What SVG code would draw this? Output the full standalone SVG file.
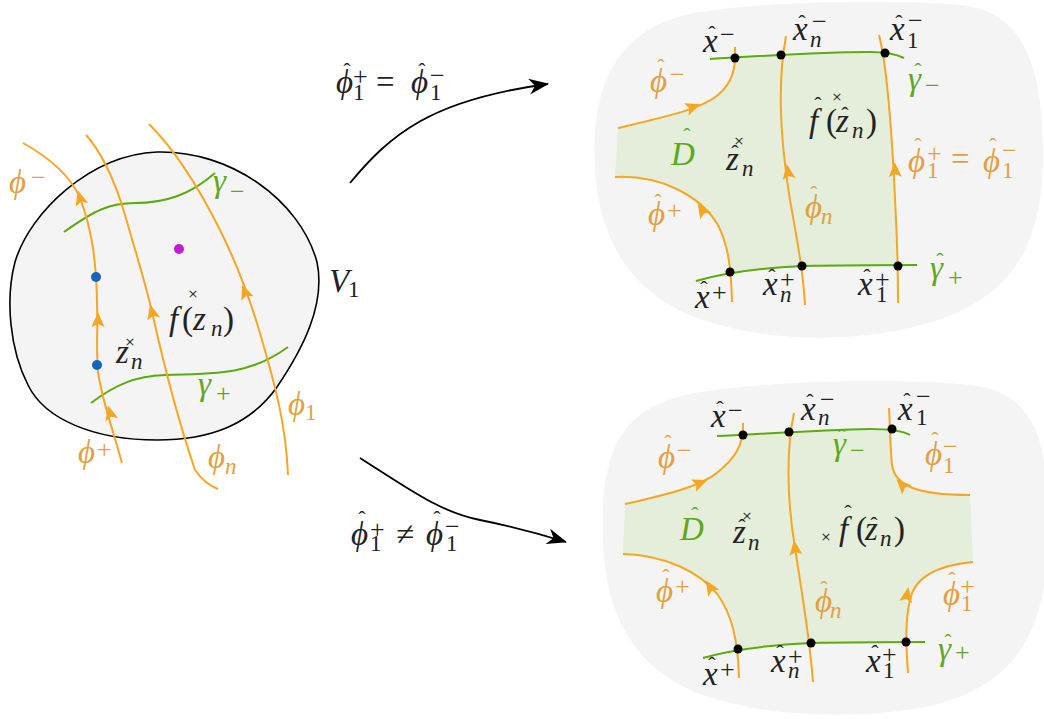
<svg xmlns="http://www.w3.org/2000/svg" width="1044" height="719" viewBox="0 0 1044 719">
<defs>
<style>
.t{font-family:"Liberation Serif","DejaVu Serif",serif;font-style:italic;font-size:33px}
.u{font-style:normal}
.s{font-size:23px}
.p{font-style:normal;font-size:26px}
.h{font-style:normal;font-size:22px;text-anchor:middle}
.k{fill:#222}
.o{fill:#e2a040}
.g{fill:#5ea81e}
.x{font-family:"DejaVu Sans",sans-serif;font-style:normal;font-size:13px;text-anchor:middle;fill:#333}
.ol{fill:none;stroke:#f6a623;stroke-width:2}
.gl{fill:none;stroke:#5aab0c;stroke-width:2}
.bg{fill:#f4f4f4}
.reg{fill:#e4eedb}
.dot{fill:#000}
.ah{fill:#f6a623}
.big{fill:none;stroke:#000;stroke-width:1.8}
</style>
<marker id="stealth" viewBox="-20 -9 22 18" refX="0" refY="0" markerWidth="22" markerHeight="18" markerUnits="userSpaceOnUse" orient="auto">
<path d="M1,0 L-19,-8 L-13,0 L-19,8 Z" fill="#000"/>
</marker>
<path id="a" d="M8,0 L-7,-6.5 L-4,0 L-7,6.5 Z"/>
</defs>

<!-- LEFT PANEL -->
<g id="left-domain">
<path d="M157,152 C230,150 300,200 317,262 C326,305 302,350 277,387 C250,425 210,440 157,440 C95,440 45,420 28,385 C10,350 5,300 15,262 C30,212 90,155 157,152 Z" fill="#f4f4f4" stroke="#000" stroke-width="1.6"/>
<path class="gl" d="M64,232 C95,210 110,203 135,203 C165,203 190,195 215,173"/>
<path class="gl" d="M91,403 C115,385 135,376 165,375 C215,374 250,375 288,347"/>
<path class="ol" d="M23,143 C50,158 70,175 80,198 C92,230 96,260 97,300 C98,330 96,350 98,372 C102,400 110,420 122,463"/>
<path class="ol" d="M86,135 C100,150 115,180 125,215 C138,260 146,285 152,312 C165,370 178,420 195,470 C202,480 210,486 218,489"/>
<path class="ol" d="M149,124 C175,150 200,190 220,230 C240,270 252,305 262,340 C275,385 286,425 288,475"/>
<use href="#a" class="ah" transform="translate(80,198) rotate(-106)"/>
<use href="#a" class="ah" transform="translate(98,320) rotate(-90)"/>
<use href="#a" class="ah" transform="translate(110,413) rotate(-105)"/>
<use href="#a" class="ah" transform="translate(152,312) rotate(-104)"/>
<use href="#a" class="ah" transform="translate(245,292) rotate(-110)"/>
<circle cx="96" cy="277" r="5" fill="#1565c0"/>
<circle cx="97" cy="365" r="5" fill="#1565c0"/>
<circle cx="179" cy="249" r="5" fill="#c21bd6"/>
<text class="x" x="193" y="298">×</text>
<text class="x" x="130" y="346">×</text>
<text class="t o"><tspan x="9" y="193">ϕ</tspan><tspan class="p" x="31" y="186">−</tspan></text>
<text class="t g"><tspan x="213" y="192">γ</tspan><tspan class="p" x="230" y="200">−</tspan></text>
<text class="t k"><tspan x="169" y="330">f</tspan><tspan class="u" x="182" y="330">(</tspan><tspan x="193" y="330">z</tspan><tspan class="s" x="211" y="336">n</tspan><tspan class="u" x="223" y="330">)</tspan></text>
<text class="t k"><tspan x="116" y="363">z</tspan><tspan class="s" x="131" y="369">n</tspan></text>
<text class="t g"><tspan x="198" y="395">γ</tspan><tspan class="p" x="216" y="402">+</tspan></text>
<text class="t o"><tspan x="288" y="415">ϕ</tspan><tspan class="u s" x="305" y="420">1</tspan></text>
<text class="t o"><tspan x="78" y="463">ϕ</tspan><tspan class="p" x="97" y="458">+</tspan></text>
<text class="t o"><tspan x="208" y="468">ϕ</tspan><tspan class="s" x="225" y="474">n</tspan></text>
<text class="t k"><tspan x="329" y="292">V</tspan><tspan class="u s" x="348" y="297">1</tspan></text>
</g>

<!-- CONNECTORS -->
<g id="connectors">
<path class="big" d="M350,183 C390,135 430,100 548,84" marker-end="url(#stealth)"/>
<path class="big" d="M360,458 C410,490 440,512 480,520 C515,527 540,534 566,542" marker-end="url(#stealth)"/>
<text class="t k"><tspan x="336" y="93">ϕ</tspan><tspan class="h" x="347" y="78">ˆ</tspan><tspan class="p" x="353" y="85">+</tspan><tspan class="u s" x="353" y="100">1</tspan><tspan class="u" x="376" y="93">=</tspan><tspan x="411" y="93">ϕ</tspan><tspan class="h" x="422" y="78">ˆ</tspan><tspan class="p" x="430" y="84">−</tspan><tspan class="u s" x="430" y="100">1</tspan></text>
<text class="t k"><tspan x="351" y="545">ϕ</tspan><tspan class="h" x="362" y="526">ˆ</tspan><tspan class="p" x="370" y="538">+</tspan><tspan class="u s" x="370" y="551">1</tspan><tspan class="u" x="396" y="545">≠</tspan><tspan x="426" y="545">ϕ</tspan><tspan class="h" x="437" y="526">ˆ</tspan><tspan class="p" x="445" y="535">−</tspan><tspan class="u s" x="446" y="551">1</tspan></text>
</g>

<!-- TOP RIGHT PANEL -->
<g id="top-right">
<path class="bg" d="M595,170 C590,80 620,25 700,12 C780,0 900,0 960,5 C1020,10 1044,60 1043,160 C1042,260 1000,310 900,330 C850,340 780,342 720,325 C640,305 600,250 595,170 Z"/>
<path class="reg" d="M735,58 C780,56 840,53 885,53 C890,120 895,200 898,266 C850,266 780,267 730,272 C727,250 722,235 718,225 C700,195 660,175 615,177 L618,128 C660,118 700,110 718,95 C730,84 735,70 735,58 Z"/>
<path class="gl" d="M710,59 C760,56 820,52 870,52 C888,52 898,55 904,58"/>
<path class="gl" d="M696,281 C720,274 760,268 802,266 C850,265 890,265 917,265"/>
<path class="ol" d="M618,128 C660,118 700,110 718,95 C732,83 736,70 735,47"/>
<path class="ol" d="M615,177 C660,175 700,195 718,225 C728,245 731,265 732,302"/>
<path class="ol" d="M786,36 C778,80 779,130 790,200 C797,240 803,270 805,305"/>
<path class="ol" d="M879,35 C888,70 893,150 896,220 C898,260 898,280 898,303"/>
<use href="#a" class="ah" transform="translate(693,107) rotate(-20)"/>
<use href="#a" class="ah" transform="translate(702,210) rotate(-122)"/>
<use href="#a" class="ah" transform="translate(788,172) rotate(-99)"/>
<use href="#a" class="ah" transform="translate(895,170) rotate(-92)"/>
<circle class="dot" cx="735" cy="58" r="4.5"/>
<circle class="dot" cx="781" cy="55" r="4.5"/>
<circle class="dot" cx="885" cy="53" r="4.5"/>
<circle class="dot" cx="730" cy="272" r="4.5"/>
<circle class="dot" cx="802" cy="266" r="4.5"/>
<circle class="dot" cx="898" cy="266" r="4.5"/>
<text class="x" x="837" y="101">×</text>
<text class="x" x="739" y="145">×</text>
<text class="t k"><tspan x="703" y="52">x</tspan><tspan class="h" x="712" y="41">ˆ</tspan><tspan class="p" x="720" y="43">−</tspan></text>
<text class="t k"><tspan x="793" y="40">x</tspan><tspan class="h" x="802" y="30">ˆ</tspan><tspan class="s" x="810" y="47">n</tspan><tspan class="p" x="812" y="30">−</tspan></text>
<text class="t k"><tspan x="890" y="40">x</tspan><tspan class="h" x="899" y="30">ˆ</tspan><tspan class="u s" x="907" y="48">1</tspan><tspan class="p" x="908" y="29">−</tspan></text>
<text class="t o"><tspan x="650" y="92">ϕ</tspan><tspan class="h" x="661" y="74">ˆ</tspan><tspan class="p" x="670" y="83">−</tspan></text>
<text class="t g"><tspan x="908" y="90">γ</tspan><tspan class="h" x="918" y="78">ˆ</tspan><tspan class="p" x="925" y="94">−</tspan></text>
<text class="t k"><tspan x="809" y="132">f</tspan><tspan class="h" x="818" y="112">ˆ</tspan><tspan class="u" x="826" y="132">(</tspan><tspan x="836" y="132">z</tspan><tspan class="h" x="845" y="122">ˆ</tspan><tspan class="s" x="852" y="138">n</tspan><tspan class="u" x="866" y="132">)</tspan></text>
<text class="t g"><tspan x="671" y="165">D</tspan><tspan class="h" x="687" y="143">ˆ</tspan></text>
<text class="t k"><tspan x="726" y="170">z</tspan><tspan class="h" x="735" y="160">ˆ</tspan><tspan class="s" x="742" y="176">n</tspan></text>
<text class="t o"><tspan x="908" y="172">ϕ</tspan><tspan class="h" x="918" y="153">ˆ</tspan><tspan class="p" x="927" y="162">+</tspan><tspan class="u s" x="927" y="178">1</tspan><tspan class="u" x="951" y="170">=</tspan><tspan x="983" y="172">ϕ</tspan><tspan class="h" x="993" y="153">ˆ</tspan><tspan class="p" x="1002" y="159">−</tspan><tspan class="u s" x="1002" y="178">1</tspan></text>
<text class="t o"><tspan x="648" y="225">ϕ</tspan><tspan class="h" x="658" y="209">ˆ</tspan><tspan class="p" x="667" y="219">+</tspan></text>
<text class="t o"><tspan x="805" y="218">ϕ</tspan><tspan class="h" x="814" y="201">ˆ</tspan><tspan class="s" x="821" y="224">n</tspan></text>
<text class="t k"><tspan x="695" y="308">x</tspan><tspan class="h" x="704" y="296">ˆ</tspan><tspan class="p" x="712" y="301">+</tspan></text>
<text class="t k"><tspan x="763" y="295">x</tspan><tspan class="h" x="772" y="284">ˆ</tspan><tspan class="p" x="780" y="288">+</tspan><tspan class="s" x="780" y="302">n</tspan></text>
<text class="t k"><tspan x="858" y="295">x</tspan><tspan class="h" x="867" y="284">ˆ</tspan><tspan class="p" x="875" y="288">+</tspan><tspan class="u s" x="876" y="302">1</tspan></text>
<text class="t g"><tspan x="930" y="279">γ</tspan><tspan class="h" x="940" y="268">ˆ</tspan><tspan class="p" x="948" y="286">+</tspan></text>
</g>

<!-- BOTTOM RIGHT PANEL -->
<g id="bottom-right">
<path class="bg" d="M603,540 C600,450 620,405 700,392 C780,380 900,378 970,385 C1040,392 1050,450 1048,540 C1046,640 1010,690 920,708 C860,718 780,718 720,700 C640,680 605,620 603,540 Z"/>
<path class="reg" d="M743,435 C790,432 850,429 892,429 C891,445 891,458 893,468 C897,488 920,495 970,495 L973,562 C940,565 915,575 910,600 C906,620 906,635 906,642 C850,642 790,643 738,649 C735,620 728,605 718,595 C700,572 665,555 623,554 L625,504 C665,495 700,487 718,472 C735,458 743,445 743,435 Z"/>
<path class="gl" d="M717,436 C760,434 820,430 870,429 C890,429 903,431 910,435"/>
<path class="gl" d="M703,658 C730,650 770,645 811,643 C860,642 900,642 925,642"/>
<path class="ol" d="M625,504 C665,495 700,487 718,472 C735,458 744,445 743,423"/>
<path class="ol" d="M623,554 C665,555 700,572 718,595 C732,615 738,640 739,678"/>
<path class="ol" d="M794,413 C786,450 787,500 795,548 C803,600 810,640 813,682"/>
<path class="ol" d="M889,408 C890,425 890,445 892,465 C895,485 915,495 970,495"/>
<path class="ol" d="M973,562 C940,565 915,575 910,600 C905,620 906,645 908,673"/>
<use href="#a" class="ah" transform="translate(700,483) rotate(-22)"/>
<use href="#a" class="ah" transform="translate(902,485) rotate(-135)"/>
<use href="#a" class="ah" transform="translate(710,587) rotate(-122)"/>
<use href="#a" class="ah" transform="translate(795,548) rotate(-98)"/>
<use href="#a" class="ah" transform="translate(907,595) rotate(-80)"/>
<circle class="dot" cx="743" cy="435" r="4.5"/>
<circle class="dot" cx="789" cy="432" r="4.5"/>
<circle class="dot" cx="892" cy="429" r="4.5"/>
<circle class="dot" cx="738" cy="649" r="4.5"/>
<circle class="dot" cx="811" cy="643" r="4.5"/>
<circle class="dot" cx="906" cy="642" r="4.5"/>
<text class="x" x="747" y="520">×</text>
<text class="x" x="826" y="541">×</text>
<text class="t k"><tspan x="711" y="427">x</tspan><tspan class="h" x="720" y="416">ˆ</tspan><tspan class="p" x="728" y="419">−</tspan></text>
<text class="t k"><tspan x="801" y="420">x</tspan><tspan class="h" x="810" y="409">ˆ</tspan><tspan class="s" x="818" y="425">n</tspan><tspan class="p" x="820" y="408">−</tspan></text>
<text class="t k"><tspan x="898" y="420">x</tspan><tspan class="h" x="907" y="408">ˆ</tspan><tspan class="u s" x="916" y="425">1</tspan><tspan class="p" x="916" y="405">−</tspan></text>
<text class="t g"><tspan x="833" y="455">γ</tspan><tspan class="h" x="842" y="444">ˆ</tspan><tspan class="p" x="850" y="459">−</tspan></text>
<text class="t o"><tspan x="658" y="468">ϕ</tspan><tspan class="h" x="668" y="450">ˆ</tspan><tspan class="p" x="677" y="459">−</tspan></text>
<text class="t o"><tspan x="925" y="465">ϕ</tspan><tspan class="h" x="935" y="447">ˆ</tspan><tspan class="p" x="943" y="455">−</tspan><tspan class="u s" x="943" y="473">1</tspan></text>
<text class="t g"><tspan x="680" y="540">D</tspan><tspan class="h" x="695" y="522">ˆ</tspan></text>
<text class="t k"><tspan x="733" y="543">z</tspan><tspan class="h" x="742" y="534">ˆ</tspan><tspan class="s" x="748" y="550">n</tspan></text>
<text class="t k"><tspan x="839" y="540">f</tspan><tspan class="h" x="848" y="520">ˆ</tspan><tspan class="u" x="856" y="540">(</tspan><tspan x="865" y="540">z</tspan><tspan class="h" x="874" y="532">ˆ</tspan><tspan class="s" x="880" y="546">n</tspan><tspan class="u" x="894" y="540">)</tspan></text>
<text class="t o"><tspan x="656" y="602">ϕ</tspan><tspan class="h" x="666" y="584">ˆ</tspan><tspan class="p" x="675" y="595">+</tspan></text>
<text class="t o"><tspan x="815" y="612">ϕ</tspan><tspan class="h" x="824" y="596">ˆ</tspan><tspan class="s" x="830" y="618">n</tspan></text>
<text class="t o"><tspan x="943" y="605">ϕ</tspan><tspan class="h" x="952" y="587">ˆ</tspan><tspan class="p" x="960" y="595">+</tspan><tspan class="u s" x="961" y="611">1</tspan></text>
<text class="t k"><tspan x="703" y="685">x</tspan><tspan class="h" x="712" y="672">ˆ</tspan><tspan class="p" x="720" y="678">+</tspan></text>
<text class="t k"><tspan x="771" y="672">x</tspan><tspan class="h" x="780" y="660">ˆ</tspan><tspan class="p" x="788" y="665">+</tspan><tspan class="s" x="788" y="678">n</tspan></text>
<text class="t k"><tspan x="866" y="672">x</tspan><tspan class="h" x="875" y="660">ˆ</tspan><tspan class="p" x="882" y="663">+</tspan><tspan class="u s" x="883" y="678">1</tspan></text>
<text class="t g"><tspan x="938" y="660">γ</tspan><tspan class="h" x="948" y="649">ˆ</tspan><tspan class="p" x="955" y="661">+</tspan></text>
</g>
</svg>
